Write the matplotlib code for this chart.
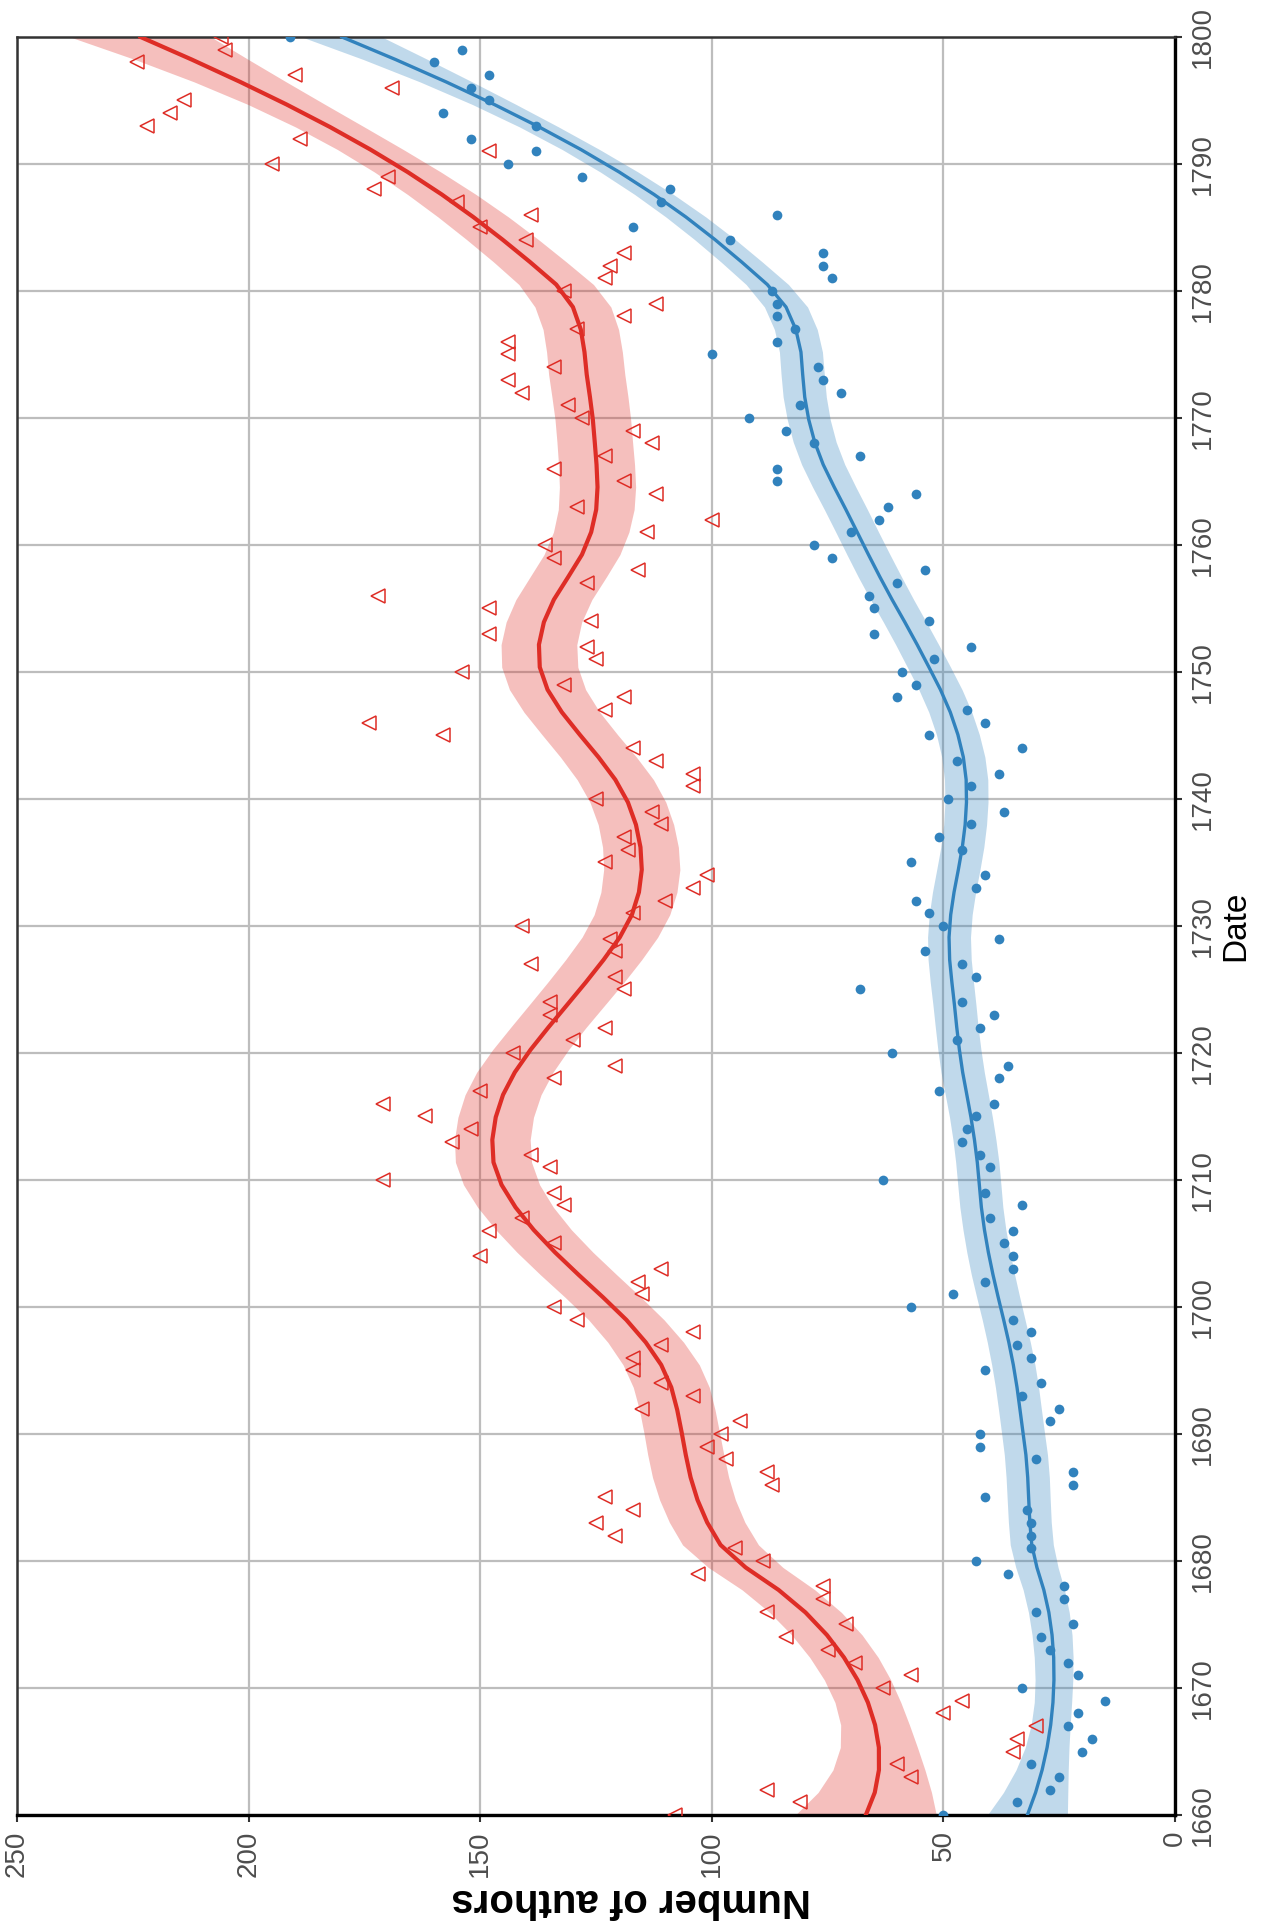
import numpy as np
import matplotlib
matplotlib.use("Agg")
import matplotlib.pyplot as plt

plt.rcParams['font.family'] = ['Liberation Sans', 'DejaVu Sans']

# one value per year, 1660-1800
years = np.arange(1660, 1801)

red_counts = [
    108, 81, 88, 57, 60, 35, 34, 30, 50, 46,
    63, 57, 69, 75, 84, 71, 88, 76, 76, 103,
    89, 95, 121, 125, 117, 123, 87, 88, 97, 101,
    98, 94, 115, 104, 111, 117, 117, 111, 104, 129,
    134, 115, 116, 111, 150, 134, 148, 141, 132, 134,
    171, 135, 139, 156, 152, 162, 171, 150, 134, 121,
    143, 130, 123, 135, 135, 119, 121, 139, 121, 122,
    141, 117, 110, 104, 101, 123, 118, 119, 111, 113,
    125, 104, 104, 112, 117, 158, 174, 123, 119, 132,
    154, 125, 127, 148, 126, 148, 172, 127, 116, 134,
    136, 114, 100, 129, 112, 119, 134, 123, 113, 117,
    128, 131, 141, 144, 134, 144, 144, 129, 119, 112,
    132, 123, 122, 119, 140, 150, 139, 155, 173, 170,
    195, 148, 189, 222, 217, 214, 169, 190, 224, 205,
    206,
]

blue_counts = [
    50, 34, 27, 25, 31, 20, 18, 23, 21, 15,
    33, 21, 23, 27, 29, 22, 30, 24, 24, 36,
    43, 31, 31, 31, 32, 41, 22, 22, 30, 42,
    42, 27, 25, 33, 29, 41, 31, 34, 31, 35,
    57, 48, 41, 35, 35, 37, 35, 40, 33, 41,
    63, 40, 42, 46, 45, 43, 39, 51, 38, 36,
    61, 47, 42, 39, 46, 68, 43, 46, 54, 38,
    50, 53, 56, 43, 41, 57, 46, 51, 44, 37,
    49, 44, 38, 47, 33, 53, 41, 45, 60, 56,
    59, 52, 44, 65, 53, 65, 66, 60, 54, 74,
    78, 70, 64, 62, 56, 86, 86, 68, 78, 84,
    92, 81, 72, 76, 77, 100, 86, 82, 86, 86,
    87, 74, 76, 76, 96, 117, 86, 111, 109, 128,
    144, 138, 152, 138, 158, 148, 152, 148, 160, 154,
    191,
]

value_ticks = [0, 50, 100, 150, 200, 250]
date_ticks = list(range(1660, 1801, 10))

RED = '#de2d26'
BLUE = '#3182bd'


def loess(x, y, x_eval, span=0.3, degree=2):
    # local quadratic fit with tricube weights, plus standard error
    x = np.asarray(x, float)
    y = np.asarray(y, float)
    n = len(x)
    q = int(np.floor(span * n))

    def row(x0):
        d = np.abs(x - x0)
        h = np.sort(d)[q - 1]
        u = np.clip(d / h, 0, 1)
        w = (1 - u ** 3) ** 3
        X = np.vander(x - x0, degree + 1, increasing=True)
        XtW = X.T * w
        return np.linalg.solve(XtW @ X, XtW)[0]

    L_eval = np.array([row(x0) for x0 in x_eval])
    L_data = np.array([row(x0) for x0 in x])
    fit = L_eval @ y
    resid = y - L_data @ y
    M = np.eye(n) - L_data
    delta1 = np.trace(M.T @ M)
    sigma = np.sqrt(np.sum(resid ** 2) / delta1)
    se = sigma * np.sqrt(np.sum(L_eval ** 2, axis=1))
    return fit, se


grid = np.linspace(years[0], years[-1], 80)
xs = years - 1730.0
gs = grid - 1730.0
red_fit, red_se = loess(xs, red_counts, gs)
blue_fit, blue_se = loess(xs, blue_counts, gs)
tcrit = 1.98

fig = plt.figure(figsize=(12.64, 19.22), dpi=100)
ax = fig.add_axes([0.01345, 0.05567, 0.9161, 0.9251])

ax.fill_betweenx(grid, red_fit - tcrit * red_se, red_fit + tcrit * red_se,
                 color=RED, alpha=0.3, lw=0, zorder=2)
ax.fill_betweenx(grid, blue_fit - tcrit * blue_se, blue_fit + tcrit * blue_se,
                 color=BLUE, alpha=0.3, lw=0, zorder=2)
ax.plot(red_counts, years, ls='none', marker='<', ms=10.5, mfc='none',
        mec=RED, mew=1.1, zorder=4)
ax.plot(blue_counts, years, ls='none', marker='o', ms=7, mfc=BLUE,
        mec='none', zorder=4)
ax.plot(red_fit, grid, color=RED, lw=3.0, zorder=3)
ax.plot(blue_fit, grid, color=BLUE, lw=2.4, zorder=3)

ax.set_xlim(250, 0)
ax.set_ylim(1660, 1800)
ax.set_xticks(value_ticks)
ax.set_yticks(date_ticks)
ax.set_xticklabels([str(v) for v in value_ticks], rotation=90)
ax.set_yticklabels([str(d) for d in date_ticks], rotation=90, va='center')
ax.yaxis.tick_right()
ax.yaxis.set_label_position('right')
ax.tick_params(axis='both', direction='out', length=5, width=1.5,
               labelsize=20, labelcolor='#4d4d4d', color='#333333', pad=6)

ax.grid(True, color='#bdbdbd', lw=1.6)
ax.set_axisbelow(True)

for side in ['right', 'bottom']:
    ax.spines[side].set_color('black')
    ax.spines[side].set_linewidth(2.4)
for side in ['left', 'top']:
    ax.spines[side].set_color('#333333')
    ax.spines[side].set_linewidth(1.8)

ax.set_xlabel('Number of authors', fontsize=29, fontweight='bold',
              rotation=180, va='center', ha='center')
ax.xaxis.set_label_coords(0.53, -0.048)
ax.set_ylabel('Date', fontsize=24, rotation=90, va='center', ha='center')
ax.yaxis.set_label_coords(1.0527, 0.5)

fig.savefig('out.png', dpi=100)
